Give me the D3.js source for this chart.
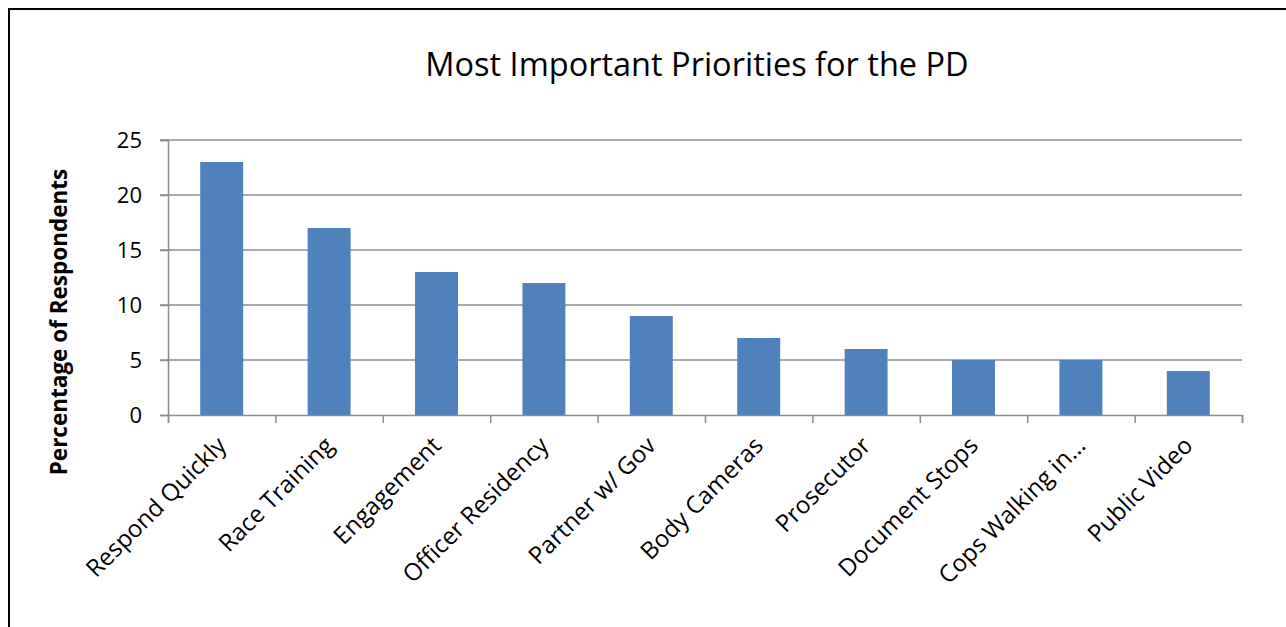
<!DOCTYPE html>
<html>
<head>
<meta charset="utf-8">
<script src="https://cdn.jsdelivr.net/npm/d3@7"></script>
<style>
  body { margin: 0; background: #fff; }
  svg { display: block; font-family: "Open Sans", sans-serif; }
</style>
</head>
<body>
<div id="chart"></div>
<script>
const categorias = ["Respond Quickly", "Race Training", "Engagement", "Officer Residency", "Partner w/ Gov",
  "Body Cameras", "Prosecutor", "Document Stops", "Cops Walking in…", "Public Video"];
const valores = [23, 17, 13, 12, 9, 7, 6, 5, 5, 4];
const ticksY = [0, 5, 10, 15, 20, 25];

const width = 1286, height = 627;
const margins = { top: 140, right: 44, bottom: 212, left: 168 };

const svg = d3.select("#chart")
  .append("svg")
  .attr("width", width)
  .attr("height", height);

// moldura
svg.append("rect")
  .attr("x", 9).attr("y", 9)
  .attr("width", width + 20).attr("height", height + 20)
  .attr("fill", "none")
  .attr("stroke", "#000")
  .attr("stroke-width", 2);

//Escalas
const xScale = d3.scaleBand()
  .domain(categorias)
  .range([margins.left, width - margins.right])
  .paddingInner(0.6)
  .paddingOuter(0.3);

const xEdges = d3.scaleLinear()
  .domain([0, categorias.length])
  .range([margins.left, width - margins.right]);

const yScale = d3.scaleLinear()
  .domain([0, 25])
  .range([height - margins.bottom, margins.top]);

// grade
svg.append("g")
  .selectAll("line")
  .data(ticksY.filter(d => d > 0))
  .join("line")
  .attr("x1", margins.left - 8)
  .attr("x2", width - margins.right)
  .attr("y1", d => yScale(d))
  .attr("y2", d => yScale(d))
  .attr("stroke", "#8c8c8c")
  .attr("stroke-width", 1.5);

//Barras
svg.append("g")
  .selectAll("rect")
  .data(valores)
  .join("rect")
  .attr("x", (d, i) => xScale(categorias[i]))
  .attr("y", d => yScale(d))
  .attr("width", xScale.bandwidth())
  .attr("height", d => yScale(0) - yScale(d))
  .attr("fill", "#4f81bd");

//Eixos
const eixoY = svg.append("g")
  .attr("transform", `translate(${margins.left}, 0)`)
  .call(d3.axisLeft(yScale).tickValues(ticksY).tickSize(8).tickPadding(18));
eixoY.select(".domain").attr("stroke", "#8c8c8c").attr("stroke-width", 1.5);
eixoY.selectAll(".tick line").attr("stroke", "#8c8c8c").attr("stroke-width", 1.5);
eixoY.selectAll(".tick text").attr("font-size", "22px").attr("fill", "#000")
  .attr("font-family", "Open Sans, sans-serif");

const eixoX = svg.append("g")
  .attr("transform", `translate(0, ${yScale(0)})`)
  .call(d3.axisBottom(xEdges).tickValues(d3.range(0, categorias.length + 1)).tickSize(8).tickFormat(""));
eixoX.select(".domain").attr("stroke", "#8c8c8c").attr("stroke-width", 1.5);
eixoX.selectAll(".tick line").attr("stroke", "#8c8c8c").attr("stroke-width", 1.5);

// rótulos das categorias
svg.append("g")
  .selectAll("text")
  .data(categorias)
  .join("text")
  .attr("transform", d => `translate(${xScale(d) + xScale.bandwidth() / 2 + 6}, ${yScale(0) + 32}) rotate(-45)`)
  .attr("text-anchor", "end")
  .attr("font-size", "24px")
  .attr("fill", "#000")
  .text(d => d);

// título do eixo Y
svg.append("text")
  .attr("transform", `translate(67, 322) rotate(-90)`)
  .attr("text-anchor", "middle")
  .attr("font-size", "22.5px")
  .attr("font-weight", "bold")
  .attr("fill", "#000")
  .text("Percentage of Respondents");

// título
svg.append("text")
  .attr("x", 697)
  .attr("y", 76)
  .attr("text-anchor", "middle")
  .attr("font-size", "32.5px")
  .attr("fill", "#000")
  .text("Most Important Priorities for the PD");
</script>
</body>
</html>
